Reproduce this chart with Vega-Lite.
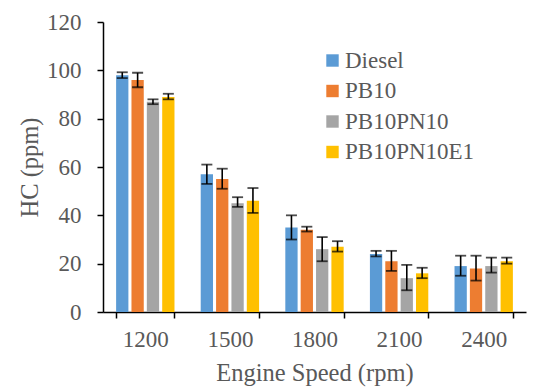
{
  "$schema": "https://vega.github.io/schema/vega-lite/v6.json",
  "autosize": "none",
  "width": 423,
  "height": 290,
  "padding": {"left": 103, "top": 22, "right": 14, "bottom": 75},
  "background": "white",
  "config": {
    "view": {"stroke": null},
    "font": "Liberation Serif",
    "axis": {"labelFont": "Liberation Serif", "titleFont": "Liberation Serif", "labelColor": "#595959", "titleColor": "#595959", "titleFontWeight": "normal", "domainColor": "#000000", "tickColor": "#000000", "grid": false, "domainWidth": 1.5, "tickWidth": 1.5},
    "legend": {"labelFont": "Liberation Serif", "labelColor": "#595959"}
  },
  "data": {
    "values": [
      {"speed": "1200", "fuel": "Diesel", "hc": 98, "lo": 96.8, "hi": 99.2},
      {"speed": "1200", "fuel": "PB10", "hc": 96, "lo": 93, "hi": 99},
      {"speed": "1200", "fuel": "PB10PN10", "hc": 87, "lo": 86, "hi": 88},
      {"speed": "1200", "fuel": "PB10PN10E1", "hc": 89, "lo": 88, "hi": 90.3},
      {"speed": "1500", "fuel": "Diesel", "hc": 57, "lo": 53, "hi": 61},
      {"speed": "1500", "fuel": "PB10", "hc": 55, "lo": 51, "hi": 59.3},
      {"speed": "1500", "fuel": "PB10PN10", "hc": 45, "lo": 43.5, "hi": 47.5},
      {"speed": "1500", "fuel": "PB10PN10E1", "hc": 46, "lo": 41, "hi": 51.3},
      {"speed": "1800", "fuel": "Diesel", "hc": 35, "lo": 30, "hi": 40},
      {"speed": "1800", "fuel": "PB10", "hc": 34, "lo": 33.3, "hi": 35.3},
      {"speed": "1800", "fuel": "PB10PN10", "hc": 26, "lo": 21, "hi": 31},
      {"speed": "1800", "fuel": "PB10PN10E1", "hc": 27, "lo": 25, "hi": 29.3},
      {"speed": "2100", "fuel": "Diesel", "hc": 24, "lo": 23, "hi": 25.3},
      {"speed": "2100", "fuel": "PB10", "hc": 21, "lo": 17, "hi": 25.3},
      {"speed": "2100", "fuel": "PB10PN10", "hc": 14, "lo": 9, "hi": 19.5},
      {"speed": "2100", "fuel": "PB10PN10E1", "hc": 16, "lo": 14, "hi": 18.3},
      {"speed": "2400", "fuel": "Diesel", "hc": 19, "lo": 15, "hi": 23.3},
      {"speed": "2400", "fuel": "PB10", "hc": 18, "lo": 13, "hi": 23.3},
      {"speed": "2400", "fuel": "PB10PN10", "hc": 19, "lo": 16.3, "hi": 22.5},
      {"speed": "2400", "fuel": "PB10PN10E1", "hc": 21, "lo": 20, "hi": 22.5}
    ]
  },
  "encoding": {
    "x": {
      "field": "speed", "type": "nominal",
      "scale": {"paddingInner": 0.31, "paddingOuter": 0.155},
      "axis": {"title": "Engine Speed (rpm)", "labelFont": "Liberation Serif", "titleFont": "Liberation Serif", "labelAngle": 0, "labelFontSize": 23, "titleFontSize": 24.5, "tickBand": "extent", "tickSize": 6, "labelPadding": 10, "titlePadding": 10}
    },
    "xOffset": {"field": "fuel", "type": "nominal", "sort": ["Diesel", "PB10", "PB10PN10", "PB10PN10E1"], "scale": {"paddingInner": 0.2, "paddingOuter": 0}}
  },
  "layer": [
    {
      "mark": {"type": "bar"},
      "encoding": {
        "y": {"field": "hc", "type": "quantitative", "scale": {"domain": [0, 120]},
          "axis": {"title": "HC (ppm)", "labelFont": "Liberation Serif", "titleFont": "Liberation Serif", "labelColor": "#595959", "titleColor": "#595959", "values": [0, 20, 40, 60, 80, 100, 120], "labelFontSize": 23, "titleFontSize": 24.5, "tickSize": 6, "labelPadding": 16, "titlePadding": 4}},
        "color": {"field": "fuel", "type": "nominal",
          "scale": {"domain": ["Diesel", "PB10", "PB10PN10", "PB10PN10E1"], "range": ["#5B9BD5", "#ED7D31", "#A5A5A5", "#FFC000"]},
          "legend": {"title": null, "orient": "none", "legendX": 218, "legendY": 27, "padding": 0, "labelFont": "Liberation Serif", "labelColor": "#595959", "symbolType": "square", "symbolSize": 154, "symbolStrokeWidth": 0, "labelFontSize": 23, "labelOffset": 1, "rowPadding": 6.5}}
      }
    },
    {
      "mark": {"type": "rule", "color": "#000000", "strokeWidth": 1.6},
      "encoding": {"y": {"field": "lo", "type": "quantitative"}, "y2": {"field": "hi"}}
    },
    {
      "mark": {"type": "tick", "color": "#000000", "thickness": 1.8, "size": 11},
      "encoding": {"y": {"field": "lo", "type": "quantitative"}}
    },
    {
      "mark": {"type": "tick", "color": "#000000", "thickness": 1.8, "size": 11},
      "encoding": {"y": {"field": "hi", "type": "quantitative"}}
    }
  ]
}
